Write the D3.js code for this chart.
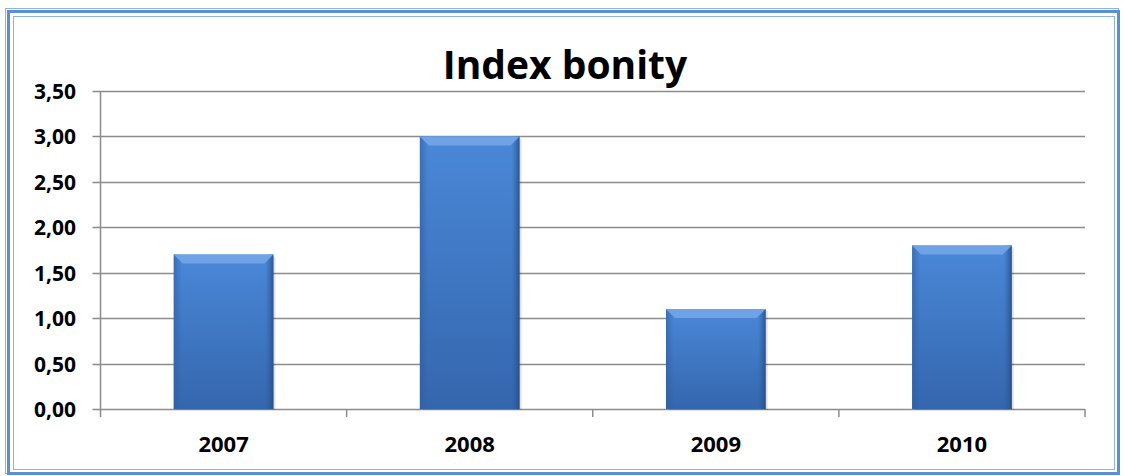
<!DOCTYPE html>
<html>
<head>
<meta charset="utf-8">
<script src="https://cdn.jsdelivr.net/npm/d3@7"></script>
<style>
  body { margin: 0; background: #fff; }
  svg { display: block; }
  text { font-family: "Open Sans", "DejaVu Sans", sans-serif; font-weight: bold; fill: #000; }
</style>
</head>
<body>
<svg></svg>
<script>
var years = ["2007", "2008", "2009", "2010"];
var values = [1.70, 3.00, 1.10, 1.80];
var yTicks = [0, 0.5, 1, 1.5, 2, 2.5, 3, 3.5];
var title = "Index bonity";

var width = 1124;
var height = 476;
var svg = d3.select("svg")
            .attr("width", width)
            .attr("height", height);

// gradient for the bars
var defs = svg.append("defs");
var grad = defs.append("linearGradient")
  .attr("id", "barGrad")
  .attr("x1", 0).attr("y1", 0).attr("x2", 0).attr("y2", 1);
grad.append("stop").attr("offset", "0%").attr("stop-color", "#4a88d8");
grad.append("stop").attr("offset", "100%").attr("stop-color", "#3466ad");

var sideGrad = defs.append("linearGradient")
  .attr("id", "sideGrad")
  .attr("x1", 0).attr("y1", 0).attr("x2", 1).attr("y2", 0);
sideGrad.append("stop").attr("offset", "0%").attr("stop-color", "#2f5d9e").attr("stop-opacity", 0.6);
sideGrad.append("stop").attr("offset", "8%").attr("stop-color", "#2f5d9e").attr("stop-opacity", 0);
sideGrad.append("stop").attr("offset", "92%").attr("stop-color", "#2f5d9e").attr("stop-opacity", 0);
sideGrad.append("stop").attr("offset", "100%").attr("stop-color", "#24497e").attr("stop-opacity", 0.8);

// frame
svg.append("rect").attr("x", 5.5).attr("y", 8.5).attr("width", 1113).attr("height", 465)
  .attr("fill", "none").attr("stroke", "#8db3e2").attr("stroke-width", 1);
svg.append("rect").attr("x", 8.5).attr("y", 11.5).attr("width", 1110).attr("height", 462)
  .attr("fill", "none").attr("stroke", "#5a8fd4").attr("stroke-width", 3);
svg.append("rect").attr("x", 13.5).attr("y", 16.5).attr("width", 1101).attr("height", 453)
  .attr("fill", "none").attr("stroke", "#8db3e2").attr("stroke-width", 1);

var plotLeft = 100.5, plotRight = 1085, plotTop = 91, plotBottom = 409;

var x = d3.scaleBand()
          .domain(years)
          .range([plotLeft, plotRight])
          .paddingInner(0.595)
          .paddingOuter(0.2975);

var y = d3.scaleLinear()
          .domain([0, 3.5])
          .range([plotBottom, plotTop]);

// gridlines
svg.append("g")
  .selectAll("line")
  .data(yTicks)
  .enter()
  .append("line")
  .attr("x1", plotLeft - 8)
  .attr("x2", plotRight)
  .attr("y1", function(d) { return Math.round(y(d)) + 0.5; })
  .attr("y2", function(d) { return Math.round(y(d)) + 0.5; })
  .attr("stroke", "#8c8c8c")
  .attr("stroke-width", 1.5);

// y axis line
svg.append("line")
  .attr("x1", plotLeft).attr("x2", plotLeft)
  .attr("y1", plotTop).attr("y2", plotBottom + 8)
  .attr("stroke", "#8c8c8c").attr("stroke-width", 1.5);

// x tick marks at category boundaries
var bounds = years.map(function(d, i) { return plotLeft + (plotRight - plotLeft) * (i + 1) / years.length; });
svg.append("g")
  .selectAll("line")
  .data(bounds)
  .enter()
  .append("line")
  .attr("x1", function(d) { return d; })
  .attr("x2", function(d) { return d; })
  .attr("y1", plotBottom)
  .attr("y2", plotBottom + 8)
  .attr("stroke", "#8c8c8c").attr("stroke-width", 1.5);

// y labels
svg.append("g")
  .selectAll("text")
  .data(yTicks)
  .enter()
  .append("text")
  .attr("x", 76)
  .attr("y", function(d) { return y(d) + 8; })
  .attr("text-anchor", "end")
  .style("font-size", "21px")
  .text(function(d) { return d3.format(".2f")(d).replace(".", ","); });

// x labels
svg.append("g")
  .selectAll("text")
  .data(years)
  .enter()
  .append("text")
  .attr("x", function(d) { return x(d) + x.bandwidth() / 2; })
  .attr("y", 452)
  .attr("text-anchor", "middle")
  .style("font-size", "22px")
  .text(function(d) { return d; });

// bars
var bars = svg.append("g")
  .selectAll("g")
  .data(values)
  .enter()
  .append("g");

bars.append("rect")
  .attr("x", function(d, i) { return x(years[i]) + 2; })
  .attr("y", function(d) { return y(d) + 2; })
  .attr("width", x.bandwidth())
  .attr("height", function(d) { return plotBottom - y(d) - 1; })
  .attr("fill", "#000")
  .attr("opacity", 0.12);

bars.append("rect")
  .attr("x", function(d, i) { return x(years[i]); })
  .attr("y", function(d) { return y(d); })
  .attr("width", x.bandwidth())
  .attr("height", function(d) { return plotBottom - y(d); })
  .attr("fill", "url(#barGrad)");

bars.append("rect")
  .attr("x", function(d, i) { return x(years[i]); })
  .attr("y", function(d) { return y(d); })
  .attr("width", x.bandwidth())
  .attr("height", function(d) { return plotBottom - y(d); })
  .attr("fill", "url(#sideGrad)");

// bevel on top
bars.append("path")
  .attr("d", function(d, i) {
    var x0 = x(years[i]), x1 = x0 + x.bandwidth(), y0 = y(d);
    return "M" + x0 + "," + y0 + "L" + x1 + "," + y0 + "L" + (x1 - 9) + "," + (y0 + 9) +
           "L" + (x0 + 9) + "," + (y0 + 9) + "Z";
  })
  .attr("fill", "#6fa3e6");

// title
svg.append("text")
  .attr("x", 565)
  .attr("y", 79)
  .attr("text-anchor", "middle")
  .style("font-size", "39px")
  .text(title);
</script>
</body>
</html>
